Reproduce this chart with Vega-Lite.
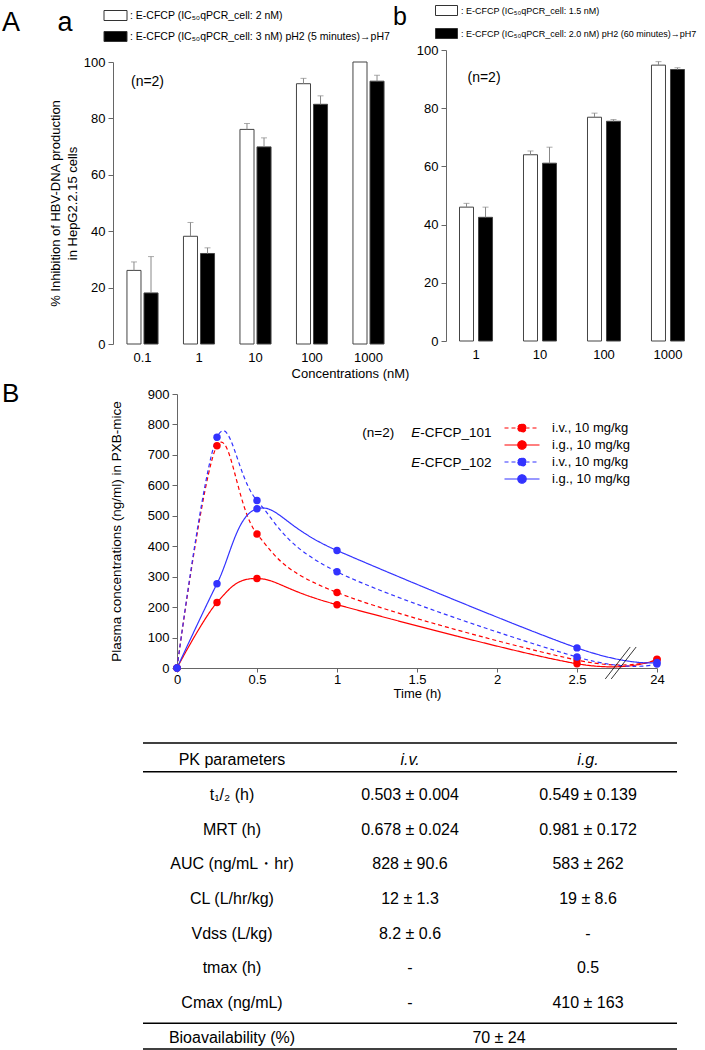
{
  "$schema": "https://vega.github.io/schema/vega-lite/v6.json",
  "padding": {"left": 2, "top": 5, "right": 0, "bottom": 0},
  "background": "white",
  "config": {
    "font": "Liberation Sans",
    "view": {"stroke": null},
    "axis": {"domainColor": "#666666", "tickColor": "#666666", "labelColor": "#000000", "titleColor": "#000000", "labelFont": "Liberation Sans", "titleFont": "Liberation Sans", "grid": false, "titleFontWeight": "normal", "labelFontSize": 13, "titleFontSize": 13, "labelOverlap": false},
    "legend": {"labelFont": "Liberation Sans", "titleFont": "Liberation Sans", "labelColor": "#000000", "titleColor": "#000000", "titleFontWeight": "normal", "labelLimit": 400},
    "title": {"font": "Liberation Sans", "color": "#000000", "fontWeight": "normal"},
    "text": {"font": "Liberation Sans", "color": "#000000"}
  },
  "columns": 1,
  "align": "none",
  "bounds": "full",
  "spacing": 1,
  "resolve": {"scale": {"x": "independent", "y": "independent", "fill": "independent", "color": "independent", "strokeDash": "independent", "xOffset": "independent"}, "legend": {"fill": "independent", "color": "independent", "strokeDash": "independent"}},
  "concat": [
    {
      "spacing": -16,
      "resolve": {"scale": {"x": "independent", "y": "independent", "fill": "independent", "xOffset": "independent"}, "legend": {"fill": "independent"}},
      "hconcat": [
        {
          "width": 285,
          "height": 294,
          "data": {"values": [
            {"conc": "0.1", "series": "s1", "value": 26.1, "upper": 29.1},
            {"conc": "0.1", "series": "s2", "value": 18.1, "upper": 31},
            {"conc": "1", "series": "s1", "value": 38.2, "upper": 43.1},
            {"conc": "1", "series": "s2", "value": 32.1, "upper": 34.1},
            {"conc": "10", "series": "s1", "value": 76.1, "upper": 78.2},
            {"conc": "10", "series": "s2", "value": 69.9, "upper": 73.1},
            {"conc": "100", "series": "s1", "value": 92.3, "upper": 94.2},
            {"conc": "100", "series": "s2", "value": 85, "upper": 88},
            {"conc": "1000", "series": "s1", "value": 100, "upper": 100},
            {"conc": "1000", "series": "s2", "value": 93.2, "upper": 95.3}
          ]},
          "layer": [
            {
              "mark": {"type": "bar", "stroke": "#444444", "strokeWidth": 1},
              "encoding": {
                "x": {"field": "conc", "type": "nominal", "sort": ["0.1", "1", "10", "100", "1000"], "scale": {"paddingInner": 0.45, "paddingOuter": 0.247},
                  "axis": {"title": "Concentrations (nM)", "titleX": 237, "titleY": 29, "titleBaseline": "middle", "titleAlign": "center", "labelAngle": 0, "domain": false, "ticks": false, "labelPadding": 7}},
                "xOffset": {"field": "series", "type": "nominal", "sort": ["s1", "s2"], "scale": {"paddingInner": 0.176}},
                "y": {"field": "value", "type": "quantitative", "scale": {"domain": [0, 100], "range": [294, 12]},
                  "axis": {"values": [0, 20, 40, 60, 80, 100], "tickCount": 12, "labelOverlap": false, "title": ["% Inhibition of HBV-DNA production", "in HepG2.2.15 cells"], "titleLineHeight": 17, "titlePadding": 4, "tickSize": 5, "labelPadding": 3}},
                "fill": {"field": "series", "type": "nominal", "sort": ["s1", "s2"], "scale": {"domain": ["s1", "s2"], "range": ["#ffffff", "#000000"]},
                  "legend": {"orient": "none", "legendX": -111, "legendY": -40, "direction": "vertical", "title": "A\u00a0\u00a0\u00a0\u00a0\u00a0a", "titleOrient": "left", "titleFontSize": 27, "titlePadding": 37, "titleBaseline": "top", "titleAnchor": "start",
                    "symbolType": "M-2.3,-1H2.3V1H-2.3Z", "symbolSize": 100, "symbolStrokeColor": "#333333", "symbolStrokeWidth": 1, "labelFontSize": 10.5, "labelOffset": 9, "rowPadding": 6,
                    "labelExpr": "datum.value == 's1' ? ': E-CFCP (IC₅₀qPCR_cell: 2 nM)' : ': E-CFCP (IC₅₀qPCR_cell: 3 nM)  pH2 (5 minutes)→pH7'"}}
              }
            },
            {
              "transform": [{"filter": "datum.upper > datum.value"}],
              "mark": {"type": "rule", "color": "#888888", "strokeWidth": 1},
              "encoding": {
                "x": {"field": "conc", "type": "nominal", "sort": ["0.1", "1", "10", "100", "1000"]},
                "xOffset": {"field": "series", "type": "nominal", "sort": ["s1", "s2"]},
                "y": {"field": "value", "type": "quantitative"},
                "y2": {"field": "upper"}
              }
            },
            {
              "transform": [{"filter": "datum.upper > datum.value"}],
              "mark": {"type": "tick", "color": "#888888", "size": 6, "thickness": 1, "orient": "horizontal"},
              "encoding": {
                "x": {"field": "conc", "type": "nominal", "sort": ["0.1", "1", "10", "100", "1000"]},
                "xOffset": {"field": "series", "type": "nominal", "sort": ["s1", "s2"]},
                "y": {"field": "upper", "type": "quantitative"}
              }
            },
            {
              "data": {"values": [{}]},
              "mark": {"type": "text", "fontSize": 14, "dx": 5, "align": "center", "baseline": "middle"},
              "encoding": {"x": {"datum": "0.1"}, "y": {"datum": 93}, "text": {"value": "(n=2)"}}
            }
          ]
        },
        {
          "width": 252,
          "height": 291,
          "data": {"values": [
            {"conc": "1", "series": "s1", "value": 46, "upper": 47.3},
            {"conc": "1", "series": "s2", "value": 42.5, "upper": 46},
            {"conc": "10", "series": "s1", "value": 64, "upper": 65.3},
            {"conc": "10", "series": "s2", "value": 61.1, "upper": 66.6},
            {"conc": "100", "series": "s1", "value": 76.9, "upper": 78.3},
            {"conc": "100", "series": "s2", "value": 75.5, "upper": 76.1},
            {"conc": "1000", "series": "s1", "value": 94.8, "upper": 96},
            {"conc": "1000", "series": "s2", "value": 93.3, "upper": 93.9}
          ]},
          "layer": [
            {
              "mark": {"type": "bar", "stroke": "#444444", "strokeWidth": 1},
              "encoding": {
                "x": {"field": "conc", "type": "nominal", "sort": ["1", "10", "100", "1000"], "scale": {"paddingInner": 0.484, "paddingOuter": 0.211},
                  "axis": {"title": null, "labelAngle": 0, "domain": false, "ticks": false, "labelPadding": 7}},
                "xOffset": {"field": "series", "type": "nominal", "sort": ["s1", "s2"], "scale": {"paddingInner": 0.263}},
                "y": {"field": "value", "type": "quantitative", "scale": {"domain": [0, 100]},
                  "axis": {"values": [0, 20, 40, 60, 80, 100], "tickCount": 12, "labelOverlap": false, "title": null, "tickSize": 5, "labelPadding": 3}},
                "fill": {"field": "series", "type": "nominal", "sort": ["s1", "s2"], "scale": {"domain": ["s1", "s2"], "range": ["#ffffff", "#000000"]},
                  "legend": {"orient": "none", "legendX": -53, "legendY": -45, "direction": "vertical", "title": "b", "titleOrient": "left", "titleFontSize": 25, "titlePadding": 34, "titleBaseline": "top", "titleAnchor": "start",
                    "symbolType": "M-2.2,-1H2.2V1H-2.2Z", "symbolSize": 100, "symbolStrokeColor": "#333333", "symbolStrokeWidth": 1, "labelFontSize": 9, "labelOffset": 9, "rowPadding": 8,
                    "labelExpr": "datum.value == 's1' ? ': E-CFCP (IC₅₀qPCR_cell: 1.5 nM)' : ': E-CFCP (IC₅₀qPCR_cell: 2.0 nM) pH2 (60 minutes)→pH7'"}}
              }
            },
            {
              "transform": [{"filter": "datum.upper > datum.value"}],
              "mark": {"type": "rule", "color": "#888888", "strokeWidth": 1},
              "encoding": {
                "x": {"field": "conc", "type": "nominal", "sort": ["1", "10", "100", "1000"]},
                "xOffset": {"field": "series", "type": "nominal", "sort": ["s1", "s2"]},
                "y": {"field": "value", "type": "quantitative"},
                "y2": {"field": "upper"}
              }
            },
            {
              "transform": [{"filter": "datum.upper > datum.value"}],
              "mark": {"type": "tick", "color": "#888888", "size": 6, "thickness": 1, "orient": "horizontal"},
              "encoding": {
                "x": {"field": "conc", "type": "nominal", "sort": ["1", "10", "100", "1000"]},
                "xOffset": {"field": "series", "type": "nominal", "sort": ["s1", "s2"]},
                "y": {"field": "upper", "type": "quantitative"}
              }
            },
            {
              "data": {"values": [{}]},
              "mark": {"type": "text", "fontSize": 14, "dx": 8, "align": "center", "baseline": "middle"},
              "encoding": {"x": {"datum": "1"}, "y": {"datum": 90.4}, "text": {"value": "(n=2)"}}
            }
          ]
        }
      ]
    },
    {
      "width": 544,
      "height": 274,
      "title": {"text": "\u00a0B", "anchor": "start", "frame": "group", "dx": -111, "offset": -40, "baseline": "alphabetic", "fontSize": 26},
      "data": {"values": [
        {"series": "101 iv", "t": 0, "c": 0}, {"series": "101 iv", "t": 0.25, "c": 730}, {"series": "101 iv", "t": 0.5, "c": 440}, {"series": "101 iv", "t": 1, "c": 248}, {"series": "101 iv", "t": 2.5, "c": 26}, {"series": "101 iv", "t": 24, "c": 27},
        {"series": "101 ig", "t": 0, "c": 0}, {"series": "101 ig", "t": 0.25, "c": 215}, {"series": "101 ig", "t": 0.5, "c": 294}, {"series": "101 ig", "t": 1, "c": 208}, {"series": "101 ig", "t": 2.5, "c": 14}, {"series": "101 ig", "t": 24, "c": 29},
        {"series": "102 iv", "t": 0, "c": 0}, {"series": "102 iv", "t": 0.25, "c": 758}, {"series": "102 iv", "t": 0.5, "c": 550}, {"series": "102 iv", "t": 1, "c": 316}, {"series": "102 iv", "t": 2.5, "c": 36}, {"series": "102 iv", "t": 24, "c": 13},
        {"series": "102 ig", "t": 0, "c": 0}, {"series": "102 ig", "t": 0.25, "c": 277}, {"series": "102 ig", "t": 0.5, "c": 523}, {"series": "102 ig", "t": 1, "c": 386}, {"series": "102 ig", "t": 2.5, "c": 66}, {"series": "102 ig", "t": 24, "c": 18}
      ]},
      "layer": [
        {
          "mark": {"type": "line", "interpolate": "cardinal", "tension": 0, "strokeWidth": 1.2, "point": {"filled": true, "size": 55, "opacity": 1}},
          "encoding": {
            "x": {"field": "t", "type": "quantitative", "scale": {"domain": [0, 2.5, 24], "range": [64, 464, 544], "nice": false, "zero": false},
              "axis": {"values": [0, 0.5, 1, 1.5, 2, 2.5, 24], "tickCount": 20, "format": ".1~f", "title": "Time (h)", "tickSize": 4, "labelPadding": 1, "titlePadding": 1, "labelFlush": false, "labelOverlap": false}},
            "y": {"field": "c", "type": "quantitative", "scale": {"domain": [0, 900], "nice": false},
              "axis": {"values": [0, 100, 200, 300, 400, 500, 600, 700, 800, 900], "tickCount": 20, "labelOverlap": false, "offset": -64, "title": "Plasma concentrations (ng/ml) in PXB-mice", "titleFontSize": 13.5, "titlePadding": 24, "tickSize": 5, "labelPadding": 3}},
            "color": {"field": "series", "type": "nominal", "sort": ["101 iv", "101 ig", "102 iv", "102 ig"], "scale": {"domain": ["101 iv", "101 ig", "102 iv", "102 ig"], "range": ["#ff0000", "#ff0000", "#3333ff", "#3333ff"]},
              "legend": {"orient": "none", "legendX": 401, "legendY": 26, "title": null, "direction": "vertical", "symbolType": "M-2.5,0H2.5M-0.6,0A0.6,0.6,0,1,0,0.6,0A0.6,0.6,0,1,0,-0.6,0Z", "symbolSize": 196, "symbolStrokeWidth": 1.2, "labelFontSize": 13, "labelOffset": 22, "rowPadding": 2,
                "labelExpr": "indexof(datum.value, 'iv') >= 0 ? 'i.v., 10 mg/kg' : 'i.g., 10 mg/kg'",
                "encode": {"symbols": {"update": {"fill": {"signal": "indexof(datum.value, '101') >= 0 ? '#ff0000' : '#3333ff'"}}}}}},
            "strokeDash": {"field": "series", "type": "nominal", "sort": ["101 iv", "101 ig", "102 iv", "102 ig"], "scale": {"domain": ["101 iv", "101 ig", "102 iv", "102 ig"], "range": [[4, 3], [1, 0], [4, 3], [1, 0]]},
              "legend": {"orient": "none", "legendX": 401, "legendY": 26, "title": null, "direction": "vertical", "symbolType": "M-2.5,0H2.5M-0.6,0A0.6,0.6,0,1,0,0.6,0A0.6,0.6,0,1,0,-0.6,0Z", "symbolSize": 196, "symbolStrokeWidth": 1.2, "labelFontSize": 13, "labelOffset": 22, "rowPadding": 2,
                "labelExpr": "indexof(datum.value, 'iv') >= 0 ? 'i.v., 10 mg/kg' : 'i.g., 10 mg/kg'",
                "encode": {"symbols": {"update": {"fill": {"signal": "indexof(datum.value, '101') >= 0 ? '#ff0000' : '#3333ff'"}}}}}}
          }
        },
        {
          "data": {"values": [{}]},
          "mark": {"type": "text", "fontSize": 13.5, "align": "center", "baseline": "middle"},
          "encoding": {"x": {"datum": 1.258}, "y": {"datum": 772}, "text": {"value": "(n=2)"}}
        },
        {
          "data": {"values": [{}]},
          "mark": {"type": "text", "fontSize": 13.5, "align": "right", "baseline": "middle", "fontStyle": "italic"},
          "encoding": {"x": {"datum": 1.52}, "y": {"datum": 772}, "text": {"value": "E"}}
        },
        {
          "data": {"values": [{}]},
          "mark": {"type": "text", "fontSize": 13.5, "align": "left", "baseline": "middle"},
          "encoding": {"x": {"datum": 1.52}, "y": {"datum": 772}, "text": {"value": "-CFCP_101"}}
        },
        {
          "data": {"values": [{}]},
          "mark": {"type": "text", "fontSize": 13.5, "align": "right", "baseline": "middle", "fontStyle": "italic"},
          "encoding": {"x": {"datum": 1.52}, "y": {"datum": 673}, "text": {"value": "E"}}
        },
        {
          "data": {"values": [{}]},
          "mark": {"type": "text", "fontSize": 13.5, "align": "left", "baseline": "middle"},
          "encoding": {"x": {"datum": 1.52}, "y": {"datum": 673}, "text": {"value": "-CFCP_102"}}
        },
        {
          "data": {"values": [{}]},
          "mark": {"type": "rule", "color": "#000000", "strokeWidth": 0.8},
          "encoding": {"x": {"datum": 10.1}, "y": {"datum": -36}, "x2": {"datum": 16.8}, "y2": {"datum": 69}}
        },
        {
          "data": {"values": [{}]},
          "mark": {"type": "rule", "color": "#000000", "strokeWidth": 0.8},
          "encoding": {"x": {"datum": 11.7}, "y": {"datum": -36}, "x2": {"datum": 18.4}, "y2": {"datum": 69}}
        }
      ]
    },
    {
      "width": 564,
      "height": 354,
      "resolve": {"scale": {"x": "independent"}},
      "data": {"values": [
        {"row": 0, "col": "param", "kind": "head", "text": "PK parameters"},
        {"row": 0, "col": "iv", "kind": "headit", "text": "i.v."},
        {"row": 0, "col": "ig", "kind": "headit", "text": "i.g."},
        {"row": 1, "col": "param", "kind": "body", "text": "t₁/₂ (h)"},
        {"row": 1, "col": "iv", "kind": "body", "text": "0.503 ± 0.004"},
        {"row": 1, "col": "ig", "kind": "body", "text": "0.549 ± 0.139"},
        {"row": 2, "col": "param", "kind": "body", "text": "MRT (h)"},
        {"row": 2, "col": "iv", "kind": "body", "text": "0.678 ± 0.024"},
        {"row": 2, "col": "ig", "kind": "body", "text": "0.981 ± 0.172"},
        {"row": 3, "col": "param", "kind": "body", "text": "AUC (ng/mL・hr)"},
        {"row": 3, "col": "iv", "kind": "body", "text": "828 ± 90.6"},
        {"row": 3, "col": "ig", "kind": "body", "text": "583 ± 262"},
        {"row": 4, "col": "param", "kind": "body", "text": "CL (L/hr/kg)"},
        {"row": 4, "col": "iv", "kind": "body", "text": "12 ± 1.3"},
        {"row": 4, "col": "ig", "kind": "body", "text": "19 ± 8.6"},
        {"row": 5, "col": "param", "kind": "body", "text": "Vdss (L/kg)"},
        {"row": 5, "col": "iv", "kind": "body", "text": "8.2 ± 0.6"},
        {"row": 5, "col": "ig", "kind": "body", "text": "-"},
        {"row": 6, "col": "param", "kind": "body", "text": "tmax (h)"},
        {"row": 6, "col": "iv", "kind": "body", "text": "-"},
        {"row": 6, "col": "ig", "kind": "body", "text": "0.5"},
        {"row": 7, "col": "param", "kind": "body", "text": "Cmax (ng/mL)"},
        {"row": 7, "col": "iv", "kind": "body", "text": "-"},
        {"row": 7, "col": "ig", "kind": "body", "text": "410 ± 163"},
        {"row": 8, "col": "param", "kind": "body", "text": "Bioavailability (%)"},
        {"row": 8, "col": "iv", "kind": "span", "text": "70 ± 24"}
      ]},
      "encoding": {
        "y": {"field": "row", "type": "ordinal", "scale": {"domain": [0, 1, 2, 3, 4, 5, 6, 7, 8], "range": [42, 354], "paddingInner": 0, "paddingOuter": 0}, "axis": null}
      },
      "layer": [
        {
          "transform": [{"filter": "datum.kind == 'body' || datum.kind == 'head'"}],
          "mark": {"type": "text", "fontSize": 16, "align": "center", "baseline": "middle"},
          "encoding": {
            "x": {"field": "col", "type": "nominal", "scale": {"domain": ["param", "iv", "ig"], "range": [30, 564], "paddingInner": 0, "paddingOuter": 0}, "axis": null},
            "text": {"field": "text"}
          }
        },
        {
          "transform": [{"filter": "datum.kind == 'headit'"}],
          "mark": {"type": "text", "fontSize": 16, "align": "center", "baseline": "middle", "fontStyle": "italic"},
          "encoding": {
            "x": {"field": "col", "type": "nominal", "scale": {"domain": ["param", "iv", "ig"], "range": [30, 564], "paddingInner": 0, "paddingOuter": 0}, "axis": null},
            "text": {"field": "text"}
          }
        },
        {
          "transform": [{"filter": "datum.kind == 'span'"}],
          "mark": {"type": "text", "fontSize": 16, "align": "center", "baseline": "middle"},
          "encoding": {
            "x": {"field": "col", "type": "nominal", "scale": {"domain": ["param", "iv", "ig"], "range": [119, 653], "paddingInner": 0, "paddingOuter": 0}, "axis": null},
            "text": {"field": "text"}
          }
        },
        {
          "data": {"values": [{}]},
          "mark": {"type": "rule", "color": "#000000", "strokeWidth": 1.5},
          "encoding": {"x": {"datum": 0, "type": "quantitative", "scale": {"domain": [0, 1], "range": [30, 564]}, "axis": null}, "x2": {"datum": 1}, "y": {"datum": 0, "type": "ordinal", "bandPosition": 0}}
        },
        {
          "data": {"values": [{}]},
          "mark": {"type": "rule", "color": "#000000", "strokeWidth": 1.5, "yOffset": -6},
          "encoding": {"x": {"datum": 0, "type": "quantitative", "scale": {"domain": [0, 1], "range": [30, 564]}, "axis": null}, "x2": {"datum": 1}, "y": {"datum": 0, "type": "ordinal", "bandPosition": 1}}
        },
        {
          "data": {"values": [{}]},
          "mark": {"type": "rule", "color": "#000000", "strokeWidth": 1.5, "yOffset": 3},
          "encoding": {"x": {"datum": 0, "type": "quantitative", "scale": {"domain": [0, 1], "range": [30, 564]}, "axis": null}, "x2": {"datum": 1}, "y": {"datum": 8, "type": "ordinal", "bandPosition": 0}}
        },
        {
          "data": {"values": [{}]},
          "mark": {"type": "rule", "color": "#000000", "strokeWidth": 1.5, "yOffset": -6},
          "encoding": {"x": {"datum": 0, "type": "quantitative", "scale": {"domain": [0, 1], "range": [30, 564]}, "axis": null}, "x2": {"datum": 1}, "y": {"datum": 8, "type": "ordinal", "bandPosition": 1}}
        }
      ]
    }
  ]
}
